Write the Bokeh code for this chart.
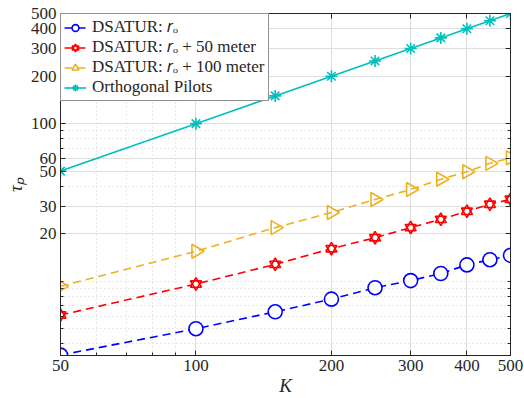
import numpy as np
from bokeh.plotting import figure
from bokeh.models import FixedTicker, Legend, LegendItem, Range1d, ColumnDataSource, LogAxis
from bokeh.embed import file_html
from bokeh.resources import INLINE

# ---- data ----
K = [50, 100, 150, 200, 250, 300, 350, 400, 450, 500]
tau_r0 = [3.4, 5.0, 6.4, 7.7, 9.1, 10.1, 11.2, 12.7, 13.7, 14.6]
tau_r50 = [6.1, 9.6, 12.8, 16.1, 18.9, 21.9, 24.7, 27.8, 30.8, 33.1]
tau_r100 = [9.3, 15.5, 21.9, 27.3, 33.0, 38.2, 44.4, 49.5, 56.0, 60.7]
tau_orth = [50, 100, 150, 200, 250, 300, 350, 400, 450, 500]

x_ticks = [50, 100, 200, 300, 400, 500]
x_minor = [60, 70, 80, 90]
y_ticks = [20, 30, 50, 60, 100, 200, 300, 400, 500]
y_minor = [4, 5, 6, 7, 8, 9, 10, 40, 70, 80, 90]

labels = ["DSATUR: 𝑟ₒ", "DSATUR: 𝑟ₒ + 50 meter", "DSATUR: 𝑟ₒ + 100 meter", "Orthogonal Pilots"]

FONT = "Liberation Serif"
TXT = "#262626"

p = figure(width=524, height=398, x_axis_type="log", y_axis_type="log",
           x_range=Range1d(50, 500), y_range=Range1d(3.38, 500),
           output_backend="svg", toolbar_location=None,
           min_border_left=60, min_border_right=14, min_border_top=13, min_border_bottom=43)

p.background_fill_color = "white"
p.border_fill_color = "white"
p.outline_line_color = TXT
p.outline_line_width = 1
p.outline_line_alpha = 1

bottom = p.below[0]
left = p.left[0]

bottom.ticker = FixedTicker(ticks=x_ticks, minor_ticks=x_minor)
left.ticker = FixedTicker(ticks=y_ticks, minor_ticks=y_minor)
bottom.major_label_overrides = {t: str(t) for t in x_ticks}
left.major_label_overrides = {t: str(t) for t in y_ticks}

# box-style ticks on the top and right edges (no labels)
top_ax = LogAxis(ticker=FixedTicker(ticks=x_ticks, minor_ticks=x_minor),
                 major_label_overrides={t: "" for t in x_ticks})
right_ax = LogAxis(ticker=FixedTicker(ticks=y_ticks, minor_ticks=y_minor),
                   major_label_overrides={t: "" for t in y_ticks})
for ax in (top_ax, right_ax):
    ax.major_label_standoff = 0
    ax.major_label_text_font_size = "1px"
p.add_layout(top_ax, "above")
p.add_layout(right_ax, "right")

for ax in (bottom, left, top_ax, right_ax):
    ax.axis_line_color = TXT
    ax.major_tick_line_color = TXT
    ax.minor_tick_line_color = TXT
    ax.major_tick_in = 5
    ax.major_tick_out = 0
    ax.minor_tick_in = 3
    ax.minor_tick_out = 0

for ax in (bottom, left):
    ax.major_label_text_font = FONT
    ax.major_label_text_font_size = "17px"
    ax.major_label_text_color = TXT
    ax.axis_label_text_font = FONT
    ax.axis_label_text_font_size = "19px"
    ax.axis_label_text_font_style = "italic"
    ax.axis_label_text_color = TXT

bottom.major_label_standoff = 4
left.major_label_standoff = 4
bottom.axis_label = "K"
left.axis_label = "τₚ"
bottom.axis_label_standoff = 1
left.axis_label_standoff = 2

for g in (p.xgrid, p.ygrid):
    g.grid_line_color = "#dedede"
    g.grid_line_width = 1
    g.minor_grid_line_color = "#d2d2d2"
    g.minor_grid_line_dash = "1 3"
    g.minor_grid_line_width = 1

src = ColumnDataSource(dict(K=K, a=tau_r0, b=tau_r50, c=tau_r100, d=tau_orth,
                            ang=[-np.pi / 2] * len(K)))

BLUE = "#0000ff"
RED = "#ff0000"
YEL = "#edb120"
CYAN = "#00bfbf"
DASH = "8 5"

l1 = p.line("K", "a", source=src, line_color=BLUE, line_width=1.6, line_dash=DASH)
m1 = p.scatter("K", "a", source=src, marker="circle", size=14, fill_color="white",
               line_color=BLUE, line_width=1.6)

l2 = p.line("K", "b", source=src, line_color=RED, line_width=1.6, line_dash=DASH)
m2a = p.scatter("K", "b", source=src, marker="triangle", size=11, fill_color="white",
                line_color=RED, line_width=1.6)
m2b = p.scatter("K", "b", source=src, marker="inverted_triangle", size=11, fill_color=None,
                line_color=RED, line_width=1.6)

l3 = p.line("K", "c", source=src, line_color=YEL, line_width=1.6, line_dash=DASH)
m3 = p.scatter("K", "c", source=src, marker="triangle", size=14, fill_color=None,
               line_color=YEL, line_width=1.6, angle="ang")

l4 = p.line("K", "d", source=src, line_color=CYAN, line_width=1.6)
m4 = p.scatter("K", "d", source=src, marker="asterisk", size=12, line_color=CYAN, line_width=1.6)

legend = Legend(items=[
    LegendItem(label=labels[0], renderers=[l1, m1]),
    LegendItem(label=labels[1], renderers=[l2, m2a, m2b]),
    LegendItem(label=labels[2], renderers=[l3, m3]),
    LegendItem(label=labels[3], renderers=[l4, m4]),
], location="top_left")
legend.margin = 0
legend.padding = 3
legend.spacing = -2
legend.glyph_width = 22
legend.glyph_height = 17
legend.label_height = 17
legend.label_standoff = 6
legend.label_text_font = FONT
legend.label_text_font_size = "17px"
legend.label_text_line_height = 1.0
legend.label_text_color = TXT
legend.border_line_color = TXT
legend.border_line_width = 1
legend.background_fill_color = "white"
legend.background_fill_alpha = 1
p.add_layout(legend, "center")

open("out.html", "w").write(file_html(p, INLINE))
